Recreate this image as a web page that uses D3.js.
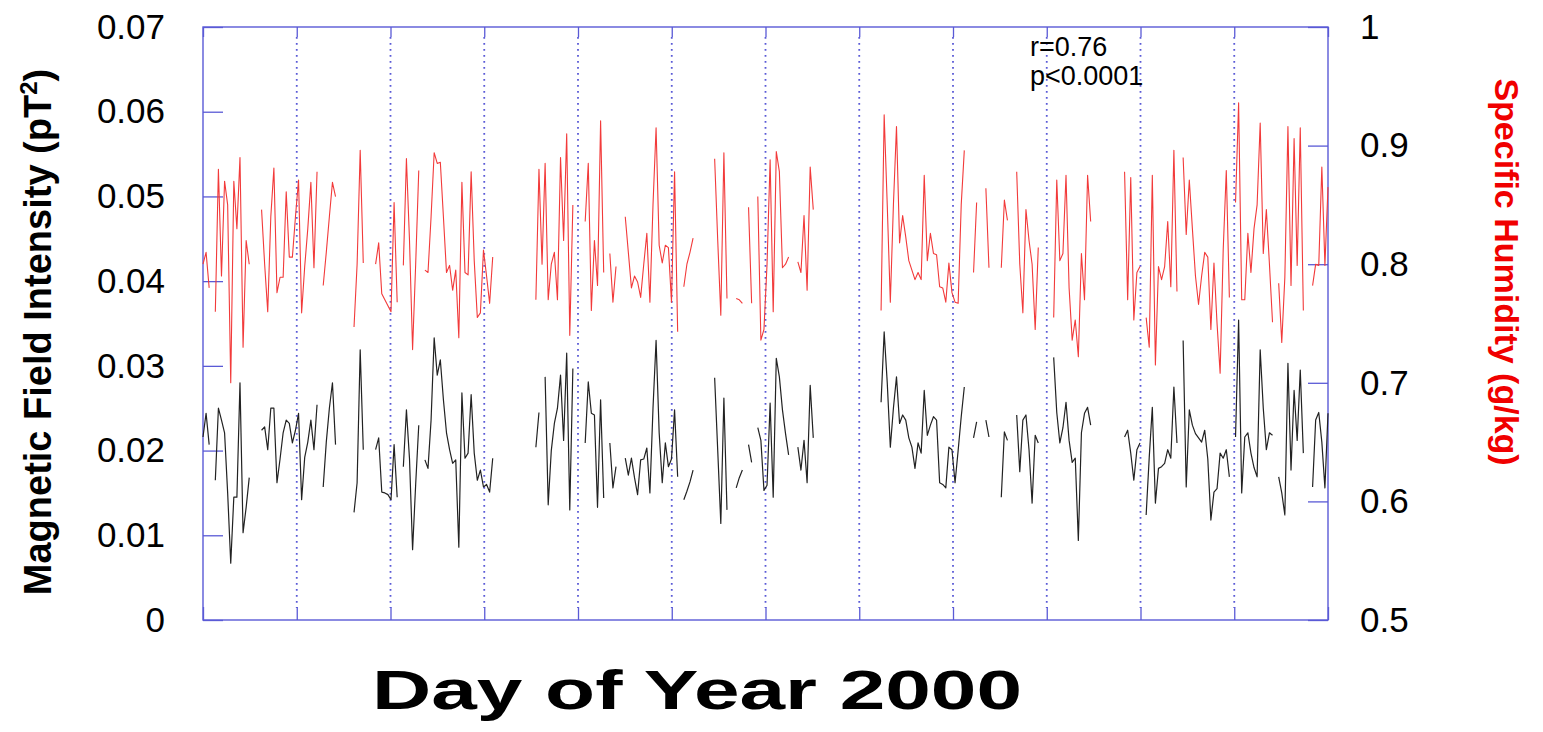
<!DOCTYPE html>
<html>
<head>
<meta charset="utf-8">
<script src="https://cdn.jsdelivr.net/npm/d3@7"></script>
<style>
  body { margin: 0; background: #fff; }
  svg text { font-family: Arial, "Liberation Sans", sans-serif; }
</style>
</head>
<body>
<div class="chart"></div>
<script>
// day of year 2000 (1..366), one value per day, null = no data
var days = d3.range(1, 367);

// specific humidity (g/kg), red series, right axis
var humidity = [
  0.80, 0.81, 0.78, null, 0.76, 0.88, 0.79, 0.87, 0.85, 0.70,
  0.87, 0.83, 0.89, 0.73, 0.82, 0.80, null, null, null, 0.846,
  0.80, 0.760, 0.84, 0.881, 0.776, 0.789, 0.789, 0.861, 0.806, 0.806,
  0.84, 0.871, 0.759, 0.798, 0.83, 0.869, 0.797, 0.878, null, 0.782,
  0.81, 0.84, 0.869, 0.857, null, null, null, null, null, 0.747,
  0.80, 0.896, 0.801, null, null, null, 0.80, 0.818, 0.775, 0.77,
  0.765, 0.760, 0.852, 0.768, null, 0.799, 0.889, 0.82, 0.728, 0.80,
  0.879, null, 0.795, 0.793, 0.84, 0.894, 0.885, 0.886, 0.84, 0.793,
  0.799, 0.778, 0.795, 0.738, 0.869, 0.793, 0.791, 0.878, 0.803, 0.755,
  0.759, 0.812, 0.79, 0.767, 0.806, null, null, null, null, null,
  null, null, null, null, null, null, null, null, 0.77, 0.88,
  0.80, 0.885, 0.77, 0.80, 0.81, 0.77, 0.89, 0.82, 0.91, 0.74,
  0.85, null, null, null, 0.836, 0.885, 0.761, 0.820, 0.782, 0.921,
  0.793, null, 0.809, 0.768, 0.798, null, null, 0.840, 0.81, 0.780,
  0.79, 0.785, 0.772, 0.80, 0.826, 0.768, 0.85, 0.915, 0.816, 0.801,
  0.816, 0.814, 0.768, 0.878, 0.743, null, 0.781, 0.80, 0.81, 0.822,
  null, null, null, null, null, null, 0.889, 0.82, 0.757, 0.894,
  0.771, null, null, 0.771, 0.77, 0.767, null, 0.848, 0.767, null,
  0.857, 0.736, 0.745, 0.80, 0.888, 0.760, 0.895, 0.878, 0.797, 0.80,
  0.806, null, null, 0.802, 0.793, 0.841, 0.778, 0.882, 0.846, null,
  null, null, null, null, null, null, null, null, null, null,
  null, null, null, null, null, null, null, null, null, null,
  0.761, 0.926, 0.85, 0.768, 0.85, 0.916, 0.818, 0.841, 0.823, 0.803,
  0.795, 0.787, 0.793, 0.787, 0.875, 0.803, 0.826, 0.809, 0.808, 0.781,
  0.780, 0.768, 0.801, 0.776, 0.768, 0.767, 0.85, 0.896, null, null,
  0.793, 0.852, null, null, 0.864, 0.797, null, null, null, 0.797,
  0.854, 0.837, null, null, 0.878, 0.80, 0.759, 0.846, 0.820, 0.80,
  0.745, 0.814, null, null, null, null, 0.755, 0.871, 0.803, 0.809,
  0.875, 0.78, 0.736, 0.753, 0.722, 0.809, 0.770, 0.875, 0.836, null,
  null, null, null, null, null, null, null, null, null, 0.878,
  0.770, 0.873, 0.753, 0.793, 0.798, null, 0.755, 0.730, 0.875, 0.715,
  0.798, 0.787, 0.798, 0.836, 0.781, 0.896, 0.777, null, 0.890, 0.825,
  0.871, 0.83, 0.79, 0.766, 0.79, 0.810, 0.806, 0.745, 0.801, 0.75,
  0.708, 0.812, 0.879, 0.772, null, 0.852, 0.936, 0.770, 0.770, 0.826,
  0.793, 0.83, 0.85, 0.919, 0.809, 0.846, 0.80, 0.751, null, 0.784,
  0.734, 0.789, 0.916, 0.782, 0.906, 0.799, 0.915, 0.761, null, null,
  0.782, 0.80, 0.799, 0.882, 0.799, 0.865
];

// magnetic field intensity (pT^2), black series, left axis
var magnetic = [
  0.0216, 0.0244, 0.0207, null, 0.0165, 0.0250, 0.0236, 0.0221, 0.0150, 0.0067,
  0.0145, 0.0145, 0.0280, 0.0103, 0.0133, 0.0168, null, null, null, 0.0224,
  0.0228, 0.0201, 0.0250, 0.0250, 0.0162, 0.0190, 0.0221, 0.0236, 0.0232, 0.0209,
  0.0224, 0.0244, 0.0142, 0.0192, 0.0210, 0.0236, 0.0201, 0.0254, null, 0.0157,
  0.0210, 0.0250, 0.0280, 0.0207, null, null, null, null, null, 0.0127,
  0.0162, 0.0319, 0.0201, null, null, null, 0.0201, 0.0215, 0.0151, 0.0150,
  0.0148, 0.0142, 0.0207, 0.0145, null, 0.0181, 0.0248, 0.0190, 0.0083, 0.0160,
  0.0230, null, 0.0189, 0.0179, 0.0236, 0.0333, 0.0289, 0.0307, 0.0260, 0.0221,
  0.0201, 0.0185, 0.0189, 0.0086, 0.0268, 0.0191, 0.0197, 0.0266, 0.0197, 0.0165,
  0.0177, 0.0157, 0.0160, 0.0151, 0.0191, null, null, null, null, null,
  null, null, null, null, null, null, null, null, 0.0204, 0.0245,
  null, 0.0287, 0.0136, 0.0200, 0.0232, 0.0250, 0.0289, 0.0212, 0.0315, 0.0130,
  0.0297, null, null, null, 0.0209, 0.0281, 0.0244, 0.0242, 0.0133, 0.0260,
  0.0144, null, 0.0209, 0.0156, 0.0181, null, null, 0.0191, 0.0171, 0.0191,
  0.0168, 0.0148, 0.0189, 0.0190, 0.0203, 0.0150, 0.0250, 0.0330, 0.0221, 0.0162,
  0.0209, 0.0181, 0.0190, 0.0248, 0.0169, null, 0.0142, 0.0152, 0.0163, 0.0177,
  null, null, null, null, null, null, 0.0286, 0.0200, 0.0114, 0.0262,
  0.0130, null, null, 0.0156, 0.0168, 0.0177, null, 0.0207, 0.0186, null,
  0.0227, 0.0212, 0.0153, 0.0159, 0.0256, 0.0145, 0.0309, 0.0287, 0.0248, 0.0220,
  0.0195, null, null, 0.0204, 0.0177, 0.0212, 0.0162, 0.0277, 0.0215, null,
  null, null, null, null, null, null, null, null, null, null,
  null, null, null, null, null, null, null, null, null, null,
  0.0257, 0.0340, 0.0280, 0.0204, 0.0250, 0.0287, 0.0232, 0.0242, 0.0236, 0.0215,
  0.0204, 0.0179, 0.0209, 0.0197, 0.0271, 0.0218, 0.0230, 0.0240, 0.0236, 0.0162,
  0.0160, 0.0156, 0.0204, 0.0201, 0.0162, 0.0200, 0.0240, 0.0275, null, null,
  0.0215, 0.0234, null, null, 0.0236, 0.0216, null, null, null, 0.0145,
  0.0222, 0.0212, null, null, 0.0242, 0.0175, 0.0236, 0.0242, 0.0201, 0.0138,
  0.0218, 0.0209, null, null, null, null, 0.0310, 0.0245, 0.0209, 0.0227,
  0.0257, 0.0212, 0.0186, 0.0191, 0.0094, 0.0221, 0.0244, 0.0251, 0.0230, null,
  null, null, null, null, null, null, null, null, null, 0.0216,
  0.0224, 0.0197, 0.0165, 0.0201, 0.0209, null, 0.0124, 0.0192, 0.0251, 0.0138,
  0.0179, 0.0181, 0.0185, 0.0201, 0.0191, 0.0275, 0.0209, null, 0.0330, 0.0157,
  0.0248, 0.0230, 0.0220, 0.0215, 0.0210, 0.0224, 0.0190, 0.0118, 0.0151, 0.0155,
  0.0197, 0.0191, 0.0201, 0.0169, null, 0.0216, 0.0354, 0.0150, 0.0216, 0.0221,
  0.0197, 0.0180, 0.0169, 0.0319, 0.0250, 0.0201, 0.0221, 0.0218, null, 0.0169,
  0.0150, 0.0124, 0.0303, 0.0177, 0.0271, 0.0212, 0.0295, 0.0197, null, null,
  0.0157, 0.0236, 0.0245, 0.0210, 0.0156, 0.0244
];

var magTicks = [0, 0.01, 0.02, 0.03, 0.04, 0.05, 0.06, 0.07];
var magTickLabels = ["0", "0.01", "0.02", "0.03", "0.04", "0.05", "0.06", "0.07"];
var humTicks = [0.5, 0.6, 0.7, 0.8, 0.9, 1];
var humTickLabels = ["0.5", "0.6", "0.7", "0.8", "0.9", "1"];
// twelve equal divisions of the year
var monthTicks = d3.range(13).map(function (i) { return 1 + i * 365 / 12; });

var width = 1543, height = 732;
var plotLeft = 203, plotRight = 1328, plotTop = 27, plotBottom = 620;
var axisColor = "#5a5ad6";

var svg = d3.select("div.chart")
    .append("svg")
    .attr("width", width)
    .attr("height", height);

var x = d3.scaleLinear().domain([1, 366]).range([plotLeft, plotRight]);
var yMag = d3.scaleLinear().domain([0, 0.07]).range([plotBottom, plotTop]);
var yHum = d3.scaleLinear().domain([0.5, 1]).range([plotBottom, plotTop]);

// dotted month lines
svg.append("g")
    .selectAll("line")
    .data(monthTicks.slice(1, 12))
    .enter()
    .append("line")
    .attr("x1", function (d) { return x(d); })
    .attr("x2", function (d) { return x(d); })
    .attr("y1", plotTop + 10)
    .attr("y2", plotBottom - 12)
    .attr("stroke", axisColor)
    .attr("stroke-width", 1.8)
    .attr("stroke-dasharray", "1.8,4.2");

// short solid ticks at top and bottom
svg.append("g")
    .attr("transform", "translate(0," + plotBottom + ")")
    .call(d3.axisBottom(x).tickValues(monthTicks).tickSizeInner(-13).tickSizeOuter(0).tickFormat(""))
    .call(function (g) { g.select(".domain").remove(); })
    .selectAll("line").attr("stroke", axisColor).attr("stroke-width", 1.3);

svg.append("g")
    .attr("transform", "translate(0," + plotTop + ")")
    .call(d3.axisTop(x).tickValues(monthTicks).tickSizeInner(-10).tickSizeOuter(0).tickFormat(""))
    .call(function (g) { g.select(".domain").remove(); })
    .selectAll("line").attr("stroke", axisColor).attr("stroke-width", 1.3);

// left axis
var leftAxis = svg.append("g")
    .attr("transform", "translate(" + plotLeft + ",0)")
    .call(d3.axisLeft(yMag)
        .tickValues(magTicks)
        .tickSizeInner(-20)
        .tickSizeOuter(0)
        .tickPadding(38)
        .tickFormat(function (d, i) { return magTickLabels[i]; }));
leftAxis.select(".domain").remove();
leftAxis.selectAll("line").attr("stroke", axisColor).attr("stroke-width", 1.3);
leftAxis.selectAll("text").attr("font-size", 35).attr("fill", "#000");

// right axis
var rightAxis = svg.append("g")
    .attr("transform", "translate(" + plotRight + ",0)")
    .call(d3.axisRight(yHum)
        .tickValues(humTicks)
        .tickSizeInner(-20)
        .tickSizeOuter(0)
        .tickPadding(32)
        .tickFormat(function (d, i) { return humTickLabels[i]; }));
rightAxis.select(".domain").remove();
rightAxis.selectAll("line").attr("stroke", axisColor).attr("stroke-width", 1.3);
rightAxis.selectAll("text").attr("font-size", 35).attr("fill", "#000");

// frame
svg.append("rect")
    .attr("x", plotLeft)
    .attr("y", plotTop)
    .attr("width", plotRight - plotLeft)
    .attr("height", plotBottom - plotTop)
    .attr("fill", "none")
    .attr("stroke", axisColor)
    .attr("stroke-width", 1.4);

// series
var humLine = d3.line()
    .defined(function (d, i) { return humidity[i] != null; })
    .x(function (d) { return x(d); })
    .y(function (d, i) { return yHum(humidity[i]); });

var magLine = d3.line()
    .defined(function (d, i) { return magnetic[i] != null; })
    .x(function (d) { return x(d); })
    .y(function (d, i) { return yMag(magnetic[i]); });

svg.append("path")
    .datum(days)
    .attr("class", "humidity")
    .attr("d", humLine)
    .attr("fill", "none")
    .attr("stroke", "#f23a3a")
    .attr("stroke-width", 1.1)
    .attr("stroke-linejoin", "round");

svg.append("path")
    .datum(days)
    .attr("class", "magnetic")
    .attr("d", magLine)
    .attr("fill", "none")
    .attr("stroke", "#222")
    .attr("stroke-width", 1.2)
    .attr("stroke-linejoin", "round");

// statistics
svg.append("text")
    .attr("x", 1030).attr("y", 56)
    .attr("font-size", 27)
    .text("r=0.76");
svg.append("text")
    .attr("x", 1030).attr("y", 85)
    .attr("font-size", 27)
    .text("p<0.0001");

// axis titles
svg.append("text")
    .attr("x", 697).attr("y", 709)
    .attr("text-anchor", "middle")
    .attr("font-size", 56)
    .attr("font-weight", "bold")
    .attr("textLength", 650)
    .attr("lengthAdjust", "spacingAndGlyphs")
    .text("Day of Year 2000");

var magTitle = svg.append("text")
    .attr("transform", "translate(51,332) rotate(-90)")
    .attr("text-anchor", "middle")
    .attr("font-size", 38)
    .attr("font-weight", "bold");
magTitle.append("tspan").text("Magnetic Field Intensity (pT");
magTitle.append("tspan").attr("dy", -14).attr("font-size", 24).text("2");
magTitle.append("tspan").attr("dy", 14).text(")");

svg.append("text")
    .attr("transform", "translate(1495,272) rotate(90)")
    .attr("text-anchor", "middle")
    .attr("font-size", 34)
    .attr("font-weight", "bold")
    .attr("fill", "#f00000")
    .text("Specific Humidity (g/kg)");
</script>
</body>
</html>
